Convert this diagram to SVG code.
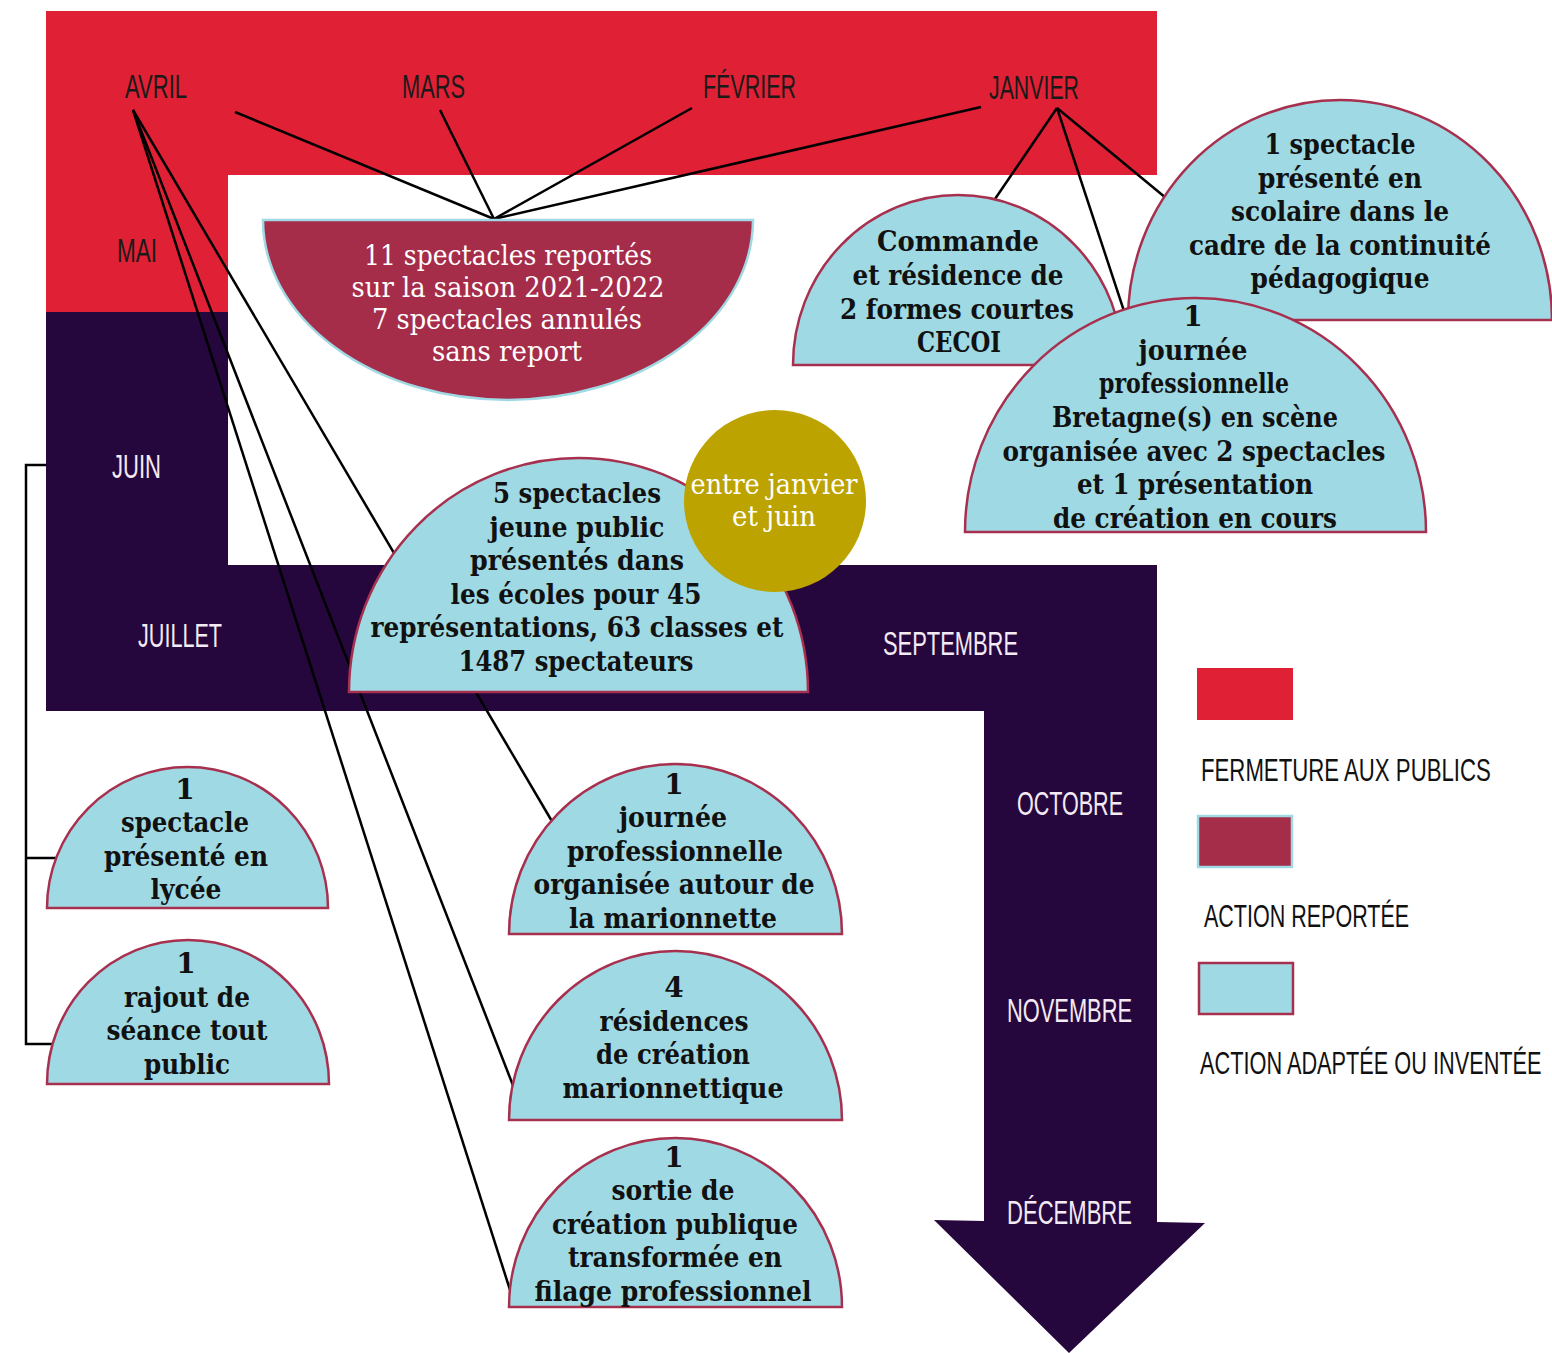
<svg xmlns="http://www.w3.org/2000/svg" width="1552" height="1353" viewBox="0 0 1552 1353">
<style>
.bg{fill:#ffffff}
.red{fill:#e02034}
.purple{fill:#26073d}
.node{fill:#9fd9e3;stroke:#a8304f;stroke-width:2.5}
.rep{fill:#a52d4a;stroke:#9fd9e3;stroke-width:2.5}
.gold{fill:#bda300}
.t{font-family:"DejaVu Serif","Liberation Serif",serif;font-weight:bold;font-size:28px;fill:#111;text-anchor:middle}
.tw{font-family:"DejaVu Serif","Liberation Serif",serif;font-size:27px;fill:#ffffff;text-anchor:middle}
.m{font-family:"Liberation Sans","DejaVu Sans",sans-serif;font-size:33px;fill:#1a1a1a}
.mw{font-family:"Liberation Sans","DejaVu Sans",sans-serif;font-size:33px;fill:#f3eaf3}
.lg{font-family:"Liberation Sans","DejaVu Sans",sans-serif;font-size:31px;fill:#111}
.ln{stroke:#000;stroke-width:2.5;fill:none}
</style>
<rect class="bg" x="0" y="0" width="1552" height="1353"/>
<g id="bands">
<path class="red" d="M46,11 H1157 V175 H228 V312 H46 Z"/>
<path class="purple" d="M46,312 H228 V565 H1157 V1222 L1205,1223 L1069,1353 L934,1220 L984,1221 V711 H46 Z"/>
</g>
<g id="connectors">
<line class="ln" x1="235" y1="112" x2="494" y2="219"/>
<line class="ln" x1="440" y1="110" x2="494" y2="219"/>
<line class="ln" x1="692" y1="108" x2="494" y2="219"/>
<line class="ln" x1="981" y1="107" x2="494" y2="219"/>
<line class="ln" x1="133" y1="110" x2="553" y2="823"/>
<line class="ln" x1="133" y1="110" x2="514" y2="1088"/>
<line class="ln" x1="133" y1="110" x2="511" y2="1293"/>
<line class="ln" x1="1057" y1="108" x2="995" y2="199"/>
<line class="ln" x1="1057" y1="108" x2="1124" y2="311"/>
<line class="ln" x1="1057" y1="108" x2="1166" y2="198"/>
<path class="ln" d="M46,465 H26 V1044 H52 M26,858 H56"/>
</g>
<g id="node-reportes">
<path class="rep" d="M263,220 A245,180 0 0 0 753,220 Z"/>
<text class="tw" x="508" y="265" textLength="288" lengthAdjust="spacingAndGlyphs">11 spectacles reportés</text>
<text class="tw" x="508" y="297" textLength="313" lengthAdjust="spacingAndGlyphs">sur la saison 2021-2022</text>
<text class="tw" x="507" y="329" textLength="270" lengthAdjust="spacingAndGlyphs">7 spectacles annulés</text>
<text class="tw" x="507" y="361" textLength="150" lengthAdjust="spacingAndGlyphs">sans report</text>
</g>
<g id="node-scolaire">
<path class="node" d="M1128,320 A212,220 0 0 1 1552,320 Z"/>
<text class="t" x="1340" y="154" textLength="151" lengthAdjust="spacingAndGlyphs">1 spectacle</text>
<text class="t" x="1340" y="188" textLength="164" lengthAdjust="spacingAndGlyphs">présenté en</text>
<text class="t" x="1340" y="221" textLength="218" lengthAdjust="spacingAndGlyphs">scolaire dans le</text>
<text class="t" x="1340" y="255" textLength="302" lengthAdjust="spacingAndGlyphs">cadre de la continuité</text>
<text class="t" x="1340" y="288" textLength="179" lengthAdjust="spacingAndGlyphs">pédagogique</text>
</g>
<g id="node-commande">
<path class="node" d="M793,365 A165,170 0 0 1 1123,365 Z"/>
<text class="t" x="958" y="251" textLength="162" lengthAdjust="spacingAndGlyphs">Commande</text>
<text class="t" x="958" y="285" textLength="211" lengthAdjust="spacingAndGlyphs">et résidence de</text>
<text class="t" x="957" y="319" textLength="234" lengthAdjust="spacingAndGlyphs">2 formes courtes</text>
<text class="t" x="959" y="352" textLength="84" lengthAdjust="spacingAndGlyphs">CECOI</text>
</g>
<g id="node-bretagne">
<path class="node" d="M965,532 A230.5,234 0 0 1 1426,532 Z"/>
<text class="t" x="1193" y="326">1</text>
<text class="t" x="1193" y="360" textLength="109" lengthAdjust="spacingAndGlyphs">journée</text>
<text class="t" x="1194" y="393" textLength="190" lengthAdjust="spacingAndGlyphs">professionnelle</text>
<text class="t" x="1195" y="427" textLength="286" lengthAdjust="spacingAndGlyphs">Bretagne(s) en scène</text>
<text class="t" x="1194" y="461" textLength="383" lengthAdjust="spacingAndGlyphs">organisée avec 2 spectacles</text>
<text class="t" x="1195" y="494" textLength="236" lengthAdjust="spacingAndGlyphs">et 1 présentation</text>
<text class="t" x="1195" y="528" textLength="284" lengthAdjust="spacingAndGlyphs">de création en cours</text>
</g>
<g id="node-jeune-public">
<path class="node" d="M349,692 A229.5,234 0 0 1 808,692 Z"/>
<text class="t" x="577" y="503" textLength="168" lengthAdjust="spacingAndGlyphs">5 spectacles</text>
<text class="t" x="577" y="537" textLength="175" lengthAdjust="spacingAndGlyphs">jeune public</text>
<text class="t" x="577" y="570" textLength="214" lengthAdjust="spacingAndGlyphs">présentés dans</text>
<text class="t" x="576" y="604" textLength="251" lengthAdjust="spacingAndGlyphs">les écoles pour 45</text>
<text class="t" x="577" y="637" textLength="413" lengthAdjust="spacingAndGlyphs">représentations, 63 classes et</text>
<text class="t" x="576" y="671" textLength="235" lengthAdjust="spacingAndGlyphs">1487 spectateurs</text>
</g>
<g id="node-periode">
<circle class="gold" cx="775" cy="501" r="91"/>
<text class="tw" x="774" y="494" textLength="167" lengthAdjust="spacingAndGlyphs">entre janvier</text>
<text class="tw" x="774" y="526" textLength="84" lengthAdjust="spacingAndGlyphs">et juin</text>
</g>
<g id="node-lycee">
<path class="node" d="M47,908 A140.5,141 0 0 1 328,908 Z"/>
<text class="t" x="185" y="799">1</text>
<text class="t" x="185" y="832" textLength="128" lengthAdjust="spacingAndGlyphs">spectacle</text>
<text class="t" x="186" y="866" textLength="164" lengthAdjust="spacingAndGlyphs">présenté en</text>
<text class="t" x="186" y="899" textLength="71" lengthAdjust="spacingAndGlyphs">lycée</text>
</g>
<g id="node-rajout">
<path class="node" d="M47,1084 A141,144 0 0 1 329,1084 Z"/>
<text class="t" x="186" y="973">1</text>
<text class="t" x="187" y="1007" textLength="126" lengthAdjust="spacingAndGlyphs">rajout de</text>
<text class="t" x="187" y="1040" textLength="161" lengthAdjust="spacingAndGlyphs">séance tout</text>
<text class="t" x="187" y="1074" textLength="86" lengthAdjust="spacingAndGlyphs">public</text>
</g>
<g id="node-journee-marionnette">
<path class="node" d="M509,934 A166.5,170 0 0 1 842,934 Z"/>
<text class="t" x="674" y="794">1</text>
<text class="t" x="673" y="827" textLength="108" lengthAdjust="spacingAndGlyphs">journée</text>
<text class="t" x="675" y="861" textLength="216" lengthAdjust="spacingAndGlyphs">professionnelle</text>
<text class="t" x="674" y="894" textLength="281" lengthAdjust="spacingAndGlyphs">organisée autour de</text>
<text class="t" x="673" y="928" textLength="208" lengthAdjust="spacingAndGlyphs">la marionnette</text>
</g>
<g id="node-residences">
<path class="node" d="M509,1120 A166.5,169 0 0 1 842,1120 Z"/>
<text class="t" x="674" y="997">4</text>
<text class="t" x="674" y="1031" textLength="149" lengthAdjust="spacingAndGlyphs">résidences</text>
<text class="t" x="673" y="1064" textLength="154" lengthAdjust="spacingAndGlyphs">de création</text>
<text class="t" x="673" y="1098" textLength="221" lengthAdjust="spacingAndGlyphs">marionnettique</text>
</g>
<g id="node-sortie">
<path class="node" d="M509,1307 A166.5,169 0 0 1 842,1307 Z"/>
<text class="t" x="674" y="1167">1</text>
<text class="t" x="673" y="1200" textLength="123" lengthAdjust="spacingAndGlyphs">sortie de</text>
<text class="t" x="675" y="1234" textLength="246" lengthAdjust="spacingAndGlyphs">création publique</text>
<text class="t" x="675" y="1267" textLength="214" lengthAdjust="spacingAndGlyphs">transformée en</text>
<text class="t" x="673" y="1301" textLength="277" lengthAdjust="spacingAndGlyphs">filage professionnel</text>
</g>
<g id="months">
<text class="m" x="125" y="98" textLength="62" lengthAdjust="spacingAndGlyphs">AVRIL</text>
<text class="m" x="402" y="98" textLength="63" lengthAdjust="spacingAndGlyphs">MARS</text>
<text class="m" x="703" y="98" textLength="93" lengthAdjust="spacingAndGlyphs">FÉVRIER</text>
<text class="m" x="989" y="99" textLength="90" lengthAdjust="spacingAndGlyphs">JANVIER</text>
<text class="m" x="117" y="262" textLength="40" lengthAdjust="spacingAndGlyphs">MAI</text>
<text class="mw" x="112" y="478" textLength="49" lengthAdjust="spacingAndGlyphs">JUIN</text>
<text class="mw" x="138" y="647" textLength="84" lengthAdjust="spacingAndGlyphs">JUILLET</text>
<text class="mw" x="883" y="655" textLength="135" lengthAdjust="spacingAndGlyphs">SEPTEMBRE</text>
<text class="mw" x="1017" y="815" textLength="106" lengthAdjust="spacingAndGlyphs">OCTOBRE</text>
<text class="mw" x="1007" y="1022" textLength="125" lengthAdjust="spacingAndGlyphs">NOVEMBRE</text>
<text class="mw" x="1007" y="1224" textLength="125" lengthAdjust="spacingAndGlyphs">DÉCEMBRE</text>
</g>
<g id="legend">
<rect x="1197" y="668" width="96" height="52" fill="#e02034"/>
<text class="lg" transform="translate(1201,781) scale(0.7,1)" x="0" y="0" textLength="414" lengthAdjust="spacingAndGlyphs">FERMETURE AUX PUBLICS</text>
<rect x="1198" y="816" width="94" height="51" fill="#a52d4a" stroke="#9fd9e3" stroke-width="2.5"/>
<text class="lg" transform="translate(1204,927) scale(0.7,1)" x="0" y="0" textLength="293" lengthAdjust="spacingAndGlyphs">ACTION REPORTÉE</text>
<rect x="1199" y="963" width="94" height="51" fill="#9fd9e3" stroke="#a8304f" stroke-width="2.5"/>
<text class="lg" transform="translate(1200,1074) scale(0.7,1)" x="0" y="0" textLength="488" lengthAdjust="spacingAndGlyphs">ACTION ADAPTÉE OU INVENTÉE</text>
</g>
</svg>
